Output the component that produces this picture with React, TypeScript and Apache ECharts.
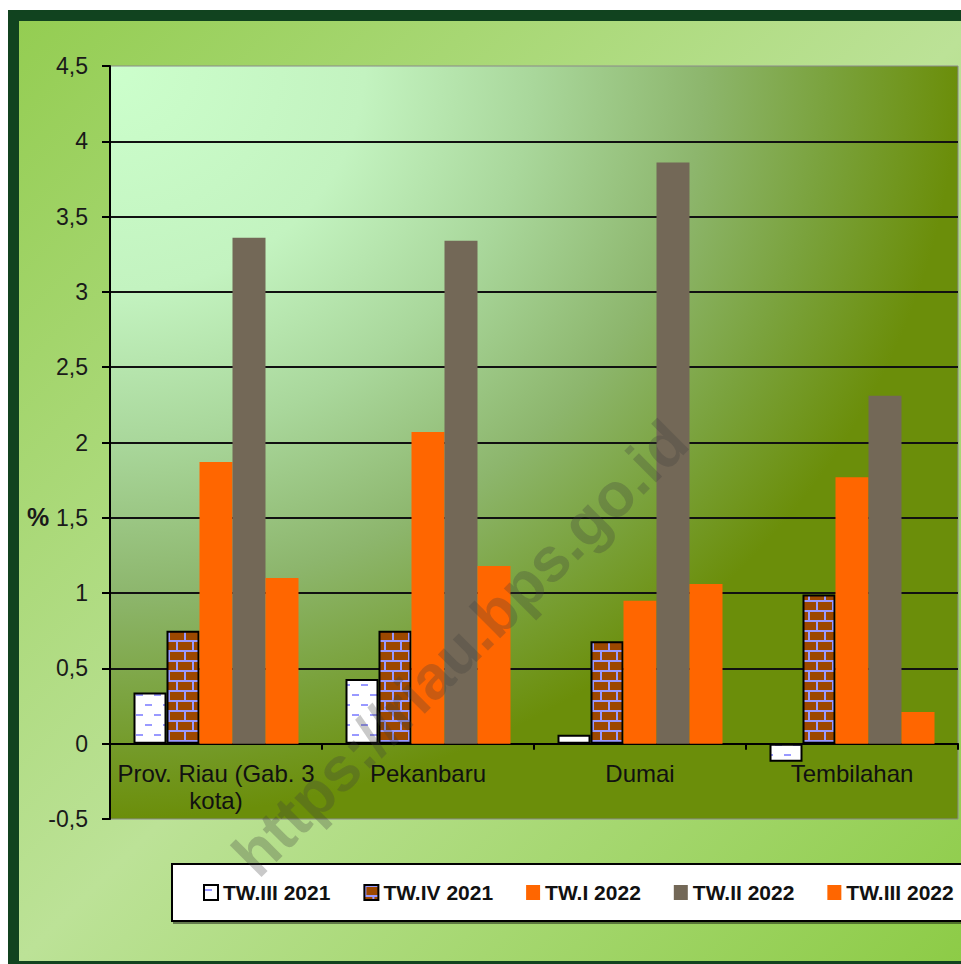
import React, { useEffect, useRef } from 'react';
import * as echarts from 'echarts';

const categories = ['Prov. Riau (Gab. 3 kota)', 'Pekanbaru', 'Dumai', 'Tembilahan'];
const seriesNames = ['TW.III 2021', 'TW.IV 2021', 'TW.I 2022', 'TW.II 2022', 'TW.III 2022'];
const twIII2021 = [0.34, 0.43, 0.06, -0.12];
const twIV2021 = [0.75, 0.75, 0.68, 0.99];
const twI2022 = [1.87, 2.07, 0.95, 1.77];
const twII2022 = [3.36, 3.34, 3.86, 2.31];
const twIII2022 = [1.1, 1.18, 1.06, 0.21];
const yMin = -0.5;
const yMax = 4.5;
const yStep = 0.5;

const FONT = 'Liberation Sans, Arial, sans-serif';

function dashPattern() {
  const c = document.createElement('canvas');
  c.width = 18;
  c.height = 20;
  const ctx = c.getContext('2d')!;
  ctx.fillStyle = '#ffffff';
  ctx.fillRect(0, 0, 18, 20);
  ctx.fillStyle = '#9999ff';
  ctx.fillRect(1, 4, 7, 2);
  ctx.fillRect(10, 14, 7, 2);
  return { image: c.toDataURL(), repeat: 'repeat', imageWidth: 18, imageHeight: 20 };
}

function brickPattern() {
  const c = document.createElement('canvas');
  c.width = 16;
  c.height = 20;
  const ctx = c.getContext('2d')!;
  ctx.fillStyle = '#9c4800';
  ctx.fillRect(0, 0, 16, 20);
  ctx.fillStyle = '#9999ff';
  ctx.fillRect(0, 0, 16, 2);
  ctx.fillRect(0, 10, 16, 2);
  ctx.fillRect(0, 2, 2, 8);
  ctx.fillRect(8, 12, 2, 8);
  return { image: c.toDataURL(), repeat: 'repeat', imageWidth: 16, imageHeight: 20 };
}

export default function App() {
  const ref = useRef<HTMLDivElement>(null);
  useEffect(() => {
    document.body.style.margin = '0';
    const chart = echarts.init(ref.current!, null, { renderer: 'svg' });
    const nLines = Math.round((yMax - yMin) / yStep) + 1;
    const splitColors = Array.from({ length: nLines }, (_, i) =>
      i === 0 || i === nLines - 1 ? 'rgba(0,0,0,0)' : '#111'
    );
    const dash = dashPattern();
    const brick = brickPattern();
    const bar = { type: 'bar', barWidth: 33, barGap: '0%' } as any;
    const option: any = {
      animation: false,
      textStyle: { fontFamily: FONT },
      graphic: [
        {
          type: 'rect',
          z: -100,
          silent: true,
          shape: { x: 8, y: 10, width: 1000, height: 1000 },
          style: { fill: '#11431f' },
        },
        {
          type: 'rect',
          z: -99,
          silent: true,
          shape: { x: 19, y: 21, width: 960, height: 940 },
          style: {
            fill: new echarts.graphic.LinearGradient(0, 0, 1, 1, [
              { offset: 0, color: '#94cd52' },
              { offset: 0.5, color: '#bce297' },
              { offset: 1, color: '#8ccb45' },
            ]),
          },
        },
        {
          type: 'text',
          z: 50,
          silent: true,
          left: 27,
          top: 504,
          style: { text: '%', font: `bold 25px ${FONT}`, fill: '#1a1a1a' },
        },
        {
          type: 'text',
          z: 100,
          silent: true,
          x: 460,
          y: 648,
          rotation: Math.PI / 4,
          style: {
            text: 'https://riau.bps.go.id',
            font: `bold 62px ${FONT}`,
            fill: 'rgba(60,60,60,0.28)',
            align: 'center',
            verticalAlign: 'middle',
          },
        },
      ],
      grid: {
        left: 110,
        right: 3,
        top: 66,
        bottom: 145,
        show: true,
        borderColor: '#8a8a8a',
        borderWidth: 1,
        backgroundColor: {
          type: 'radial',
          x: 0,
          y: 0,
          r: 1,
          colorStops: [
            { offset: 0, color: '#ccffcc' },
            { offset: 0.3, color: '#c3f3c0' },
            { offset: 0.5, color: '#a9d79b' },
            { offset: 0.7, color: '#8db66d' },
            { offset: 0.85, color: '#7aa23c' },
            { offset: 1, color: '#6b8e0a' },
          ],
        },
      },
      legend: {
        left: 172,
        top: 864,
        width: 780,
        data: seriesNames,
        icon: 'rect',
        itemWidth: 14,
        itemHeight: 15,
        itemGap: 33,
        padding: [18, 24, 18, 31],
        backgroundColor: '#ffffff',
        borderColor: '#000',
        borderWidth: 2,
        shadowColor: 'rgba(0,0,0,0.45)',
        shadowOffsetX: 2,
        shadowOffsetY: 2,
        shadowBlur: 0,
        selectedMode: false,
        textStyle: { fontSize: 21, fontWeight: 'bold', color: '#111', fontFamily: FONT },
      },
      xAxis: {
        type: 'category',
        data: categories,
        axisLine: { onZero: true, lineStyle: { color: '#000', width: 2 } },
        axisTick: { show: true, length: 6, lineStyle: { color: '#000', width: 2 } },
        axisLabel: {
          interval: 0,
          margin: -59,
          fontSize: 24,
          lineHeight: 27,
          color: '#111',
          fontFamily: FONT,
          formatter: (v: string) => v.replace(' kota)', '\nkota)'),
        },
        splitLine: { show: false },
      },
      yAxis: {
        type: 'value',
        min: yMin,
        max: yMax,
        interval: yStep,
        axisLine: { show: true, lineStyle: { color: '#000', width: 2 } },
        axisTick: { show: true, length: 8, lineStyle: { color: '#000', width: 2 } },
        axisLabel: {
          margin: 22,
          fontSize: 23,
          color: '#1a1a1a',
          fontFamily: FONT,
          formatter: (v: number) => String(v).replace('.', ','),
        },
        splitLine: { show: true, lineStyle: { color: splitColors, width: 2 } },
      },
      series: [
        {
          ...bar,
          name: seriesNames[0],
          data: twIII2021,
          itemStyle: { color: dash, borderColor: '#000', borderWidth: 2 },
        },
        {
          ...bar,
          name: seriesNames[1],
          data: twIV2021,
          itemStyle: { color: brick, borderColor: '#000', borderWidth: 2 },
        },
        { ...bar, name: seriesNames[2], data: twI2022, itemStyle: { color: '#ff6600' } },
        { ...bar, name: seriesNames[3], data: twII2022, itemStyle: { color: '#736857' } },
        { ...bar, name: seriesNames[4], data: twIII2022, itemStyle: { color: '#ff6600' } },
      ],
    };
    chart.setOption(option);
    return () => chart.dispose();
  }, []);
  return <div ref={ref} style={{ width: 961, height: 964, background: '#fff' }} />;
}
